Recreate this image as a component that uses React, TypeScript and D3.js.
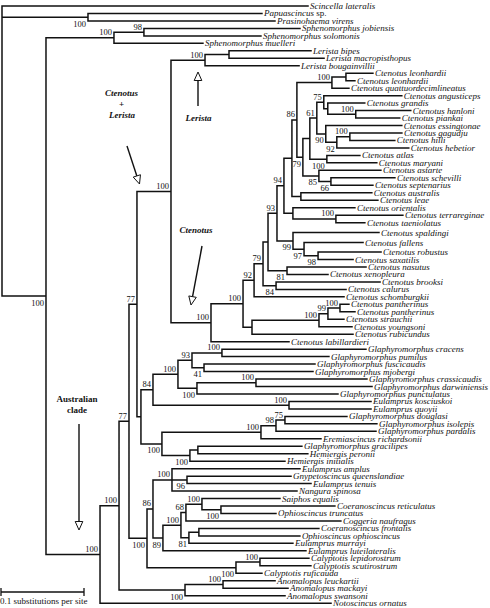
import React from "react";
import * as d3 from "d3";

const W = 490;
const H = 608;

// ---- Tree data (Newick, branch lengths in substitutions per site; internal labels = bootstrap support)
const SPHENOMORPHUS =
  "((Sphenomorphus_jobiensis:0.1880,Sphenomorphus_solomonis:0.1410)98:0.0361,Sphenomorphus_muelleri:0.1072)100:0.0819";
const LERISTA =
  "((Lerista_bipes:0.0988,Lerista_macropisthopus:0.1145):0.0289,Lerista_bougainvillii:0.1133)100:0.0410";
const CT_LEON =
  "((Ctenotus_leonhardii:0.0325,Ctenotus_leonhardii:0.0108):0.0169,Ctenotus_quattuordecimlineatus:0.0205)100:0.0422";
const CT_75 =
  "(Ctenotus_angusticeps:0.0940,(Ctenotus_grandis:0.0446,(Ctenotus_hanloni:0.0663,Ctenotus_piankai:0.0530)100:0.0337):0.0048)75:0.0084";
const CT_90 =
  "(Ctenotus_essingtonae:0.0916,((Ctenotus_gagudju:0.0627,Ctenotus_hilli:0.0542)100:0.0157,Ctenotus_hebetior:0.0867)92:0.0133)90:0.0108";
const CT_ATLAS = "(Ctenotus_atlas:0.0398,Ctenotus_maryani:0.0602)100:0.0205";
const CT_ASTARTE =
  "(Ctenotus_astarte:0.0747,(Ctenotus_schevilli:0.0771,Ctenotus_septenarius:0.0506)66:0.0145)85:0.0193";
const CT_AUSTRALIS = "(Ctenotus_australis:0.0855,Ctenotus_leae:0.0928):0.0108";
const CT_ORIENTALIS =
  "(Ctenotus_orientalis:0.0747,(Ctenotus_terrareginae:0.0807,Ctenotus_taeniolatus:0.0349)100:0.0518):0.0108";
const CT_SPALDINGI =
  "(Ctenotus_spaldingi:0.1036,(Ctenotus_fallens:0.0711,(Ctenotus_robustus:0.0759,Ctenotus_saxatilis:0.0422)98:0.0169)97:0.0133)99:0.0193";
const CT_NASUTUS = "(Ctenotus_nasutus:0.0952,Ctenotus_xenopleura:0.0494)81:0.0229";
const CT_BROOKSI = "(Ctenotus_brooksi:0.1253,Ctenotus_calurus:0.0843)84:0.0157";
const CT_PANTHERINUS =
  "((((Ctenotus_pantherinus:0.0108,Ctenotus_pantherinus:0.0181)100:0.0145,Ctenotus_strauchii:0.0193)99:0.0108,Ctenotus_youngsoni:0.0398)100:0.0807,Ctenotus_rubicundus:0.1217):0.0108";
const GLAPHY_A =
  "(((Glaphyromorphus_cracens:0.1735,Glaphyromorphus_pumilus:0.1289)100:0.0361,(Glaphyromorphus_fuscicaudis:0.1337,Glaphyromorphus_mjobergi:0.1313)41:0.0145)93:0.0169,((Glaphyromorphus_crassicaudis:0.1337,Glaphyromorphus_darwiniensis:0.1398)100:0.0711,Glaphyromorphus_punctulatus:0.1699)100:0.0229)100:0.0301";
const EULAMPRUS_KQ = "(Eulamprus_kosciuskoi:0.0988,Eulamprus_quoyii:0.0988)100:0.1639";
const GLAPHY_B =
  "((((Glaphyromorphus_douglasi:0.0747,Glaphyromorphus_isolepis:0.1108)75:0.0108,Glaphyromorphus_pardalis:0.1205)98:0.0181,Eremiascincus_richardsonii:0.0723)100:0.1193,((Glaphyromorphus_gracilipes:0.1253,Hemiergis_peronii:0.1325):0.0096,Hemiergis_initialis:0.1145)100:0.0337)100:0.0253";
const EULAMPRUS_GROUP =
  "(Eulamprus_amplus:0.1542,(Gnypetoscincus_queenslandiae:0.1253,Eulamprus_tenuis:0.1494)96:0.0181,Nangura_spinosa:0.1506)100:0.0229";
const OPHIO_GROUP =
  "((((Saiphos_equalis:0.0940,(Coeranoscincus_reticulatus:0.1373,Ophioscincus_truncatus:0.0663)100:0.0229)100:0.0193,Coggeria_naufragus:0.1867)68:0.0060,((Coeranoscincus_frontalis:0.1446,Ophioscincus_ophioscincus:0.1217):0.0120,Eulamprus_murrayi:0.1253)81:0.0096)100:0.0217,Eulamprus_luteilateralis:0.1723)89:0.0120";
const CALYPTOTIS =
  "((Calyptotis_lepidorostrum:0.0590,Calyptotis_scutirostrum:0.0614)100:0.0289,Calyptotis_ruficauda:0.0313)100:0.1072";
const ANOMALOPUS =
  "((Anomalopus_leuckartii:0.0627,Anomalopus_mackayi:0.0783)100:0.0458,Anomalopus_swansoni:0.1205)100:0.0795";
const OUTGROUP_PP = "(Papuascincus_sp.:0.2096,Prasinohaema_virens:0.2253)100:0.1036";

// compose
const CT_Y = `((${CT_75},${CT_90})61:0.0084,${CT_ATLAS}):0.0084`;
const CT_86 = `(${CT_LEON},(${CT_Y},${CT_ASTARTE})79:0.0072)86:0.0060`;
const CT_94 = `((${CT_86},${CT_AUSTRALIS}):0.0096,${CT_ORIENTALIS})94:0.0084`;
const CT_93 = `(${CT_94},${CT_SPALDINGI})93:0.0108`;
const CT_92 = `(((${CT_93},${CT_NASUTUS}):0.0060,${CT_BROOKSI})79:0.0108,Ctenotus_schomburgkii:0.1084)92:0.0133`;
const CTENOTUS = `((${CT_92},${CT_PANTHERINUS})100:0.0386,Ctenotus_labillardieri:0.0940)100:0.0482`;
const CT_LERISTA = `(${LERISTA},${CTENOTUS})100:0.0410`;
const GLAPHY = `((${GLAPHY_A},${EULAMPRUS_KQ})84:0.0145,${GLAPHY_B}):0.0048`;
const CLADE_137 = `(${CT_LERISTA},${GLAPHY})77:0.0096`;
const CLADE_147 = `((${EULAMPRUS_GROUP},${OPHIO_GROUP})86:0.0072,${CALYPTOTIS})100:0.0217`;
const CLADE_119 = `((${CLADE_137},${CLADE_147})77:0.0120,${ANOMALOPUS})100:0.0229`;
const AUSTRALIAN = `(${CLADE_119},Notoscincus_ornatus:0.2783)100:0.0651`;
const TREE = `(Scincella_lateralis:0.3687,${OUTGROUP_PP},(${SPHENOMORPHUS},${AUSTRALIAN})100:0.0530);`;

// extra vertical spacing after given leaf indices (as in the original figure)
const LEAF_GAP_AFTER: Record<number, number> = { 29: 2.5, 30: 2.5, 31: 2 };
// support labels drawn above their branch although the node is a lower child
const LABEL_ABOVE = [
  "Lerista bipes|Notoscincus ornatus",
  "Ctenotus leonhardii|Ctenotus labillardieri",
  "Ctenotus terrareginae|Ctenotus taeniolatus",
  "Ctenotus hanloni|Ctenotus piankai",
  "Eulamprus kosciuskoi|Eulamprus quoyii",
];

type PNode = { name: string; length: number; children?: PNode[] };

function parseNewick(s: string): PNode {
  let i = 0;
  function node(): PNode {
    const n: PNode = { name: "", length: 0 };
    if (s[i] === "(") {
      i++;
      n.children = [];
      for (;;) {
        n.children.push(node());
        if (s[i] === ",") { i++; continue; }
        if (s[i] === ")") { i++; break; }
        break;
      }
    }
    let name = "";
    while (i < s.length && !":,();".includes(s[i])) name += s[i++];
    n.name = name.replace(/_/g, " ");
    if (s[i] === ":") {
      i++;
      let num = "";
      while (i < s.length && !",();".includes(s[i])) num += s[i++];
      n.length = parseFloat(num);
    }
    return n;
  }
  return node();
}

const FONT = "'Liberation Serif', 'Times New Roman', serif";

function ArrowHead({ x1, y1, x2, y2 }: { x1: number; y1: number; x2: number; y2: number }) {
  // line from (x1,y1) to tip (x2,y2) with hollow triangle head
  const len = Math.hypot(x2 - x1, y2 - y1);
  const ux = (x2 - x1) / len, uy = (y2 - y1) / len;
  const hl = 8.5, hw = 3.8;
  const bx = x2 - ux * hl, by = y2 - uy * hl;
  const px = -uy, py = ux;
  const pts = [
    [x2, y2],
    [bx + px * hw, by + py * hw],
    [bx - px * hw, by - py * hw],
  ];
  return (
    <g>
      <line x1={x1} y1={y1} x2={bx} y2={by} stroke="#111" strokeWidth={1.4} />
      <polygon points={pts.map(p => p.join(",")).join(" ")} fill="#fff" stroke="#111" strokeWidth={1} />
    </g>
  );
}

export default function App() {
  const parsed = parseNewick(TREE);
  const root: any = d3.hierarchy<PNode>(parsed, d => d.children);

  const xScale = d3.scaleLinear().domain([0, 0.1]).range([2, 85]);
  const nLeaves = root.leaves().length;
  const yScale = d3.scaleLinear().domain([0, nLeaves - 1]).range([6, 6 + 7.47 * (nLeaves - 1)]);

  root.eachBefore((n: any) => {
    n.dist = (n.parent ? n.parent.dist : 0) + (n.parent ? n.data.length : 0);
    n.px = xScale(n.dist);
  });
  const leaves = root.leaves();
  let extra = 0;
  leaves.forEach((l: any, i: number) => {
    l.py = yScale(i) + extra;
    extra += LEAF_GAP_AFTER[i] || 0;
  });
  root.eachAfter((n: any) => {
    if (n.children) n.py = (n.children[0].py + n.children[n.children.length - 1].py) / 2;
  });

  const nodes = root.descendants();
  let d = "";
  nodes.forEach((n: any) => {
    if (n.parent) d += `M${n.parent.px},${n.py}H${n.px}`;
    if (n.children) d += `M${n.px},${n.children[0].py}V${n.children[n.children.length - 1].py}`;
  });

  const supports = nodes.filter((n: any) => n.children && n.parent && n.data.name);
  const scaleLen = xScale(0.1) - xScale(0);

  return (
    <svg
      width={W}
      height={H}
      viewBox={`0 0 ${W} ${H}`}
      style={{ position: "absolute", left: 0, top: 0, background: "#fff" }}
      fontFamily={FONT}
    >
      <rect x={0} y={0} width={W} height={H} fill="#fff" />
      <path d={d} fill="none" stroke="#111" strokeWidth={1.5} strokeLinecap="square" />

      {leaves.map((l: any, i: number) => {
        const name: string = l.data.name;
        const isSp = name.endsWith(" sp.");
        return (
          <text key={"leaf" + i} x={l.px + 2} y={l.py + 3} fontSize={9} fontStyle="italic" fill="#111">
            {isSp ? (
              <>
                {name.replace(" sp.", " ")}
                <tspan fontStyle="normal">sp.</tspan>
              </>
            ) : (
              name
            )}
          </text>
        );
      })}

      {supports.map((n: any, i: number) => {
        const lv = n.leaves();
        const key = `${lv[0].data.name}|${lv[lv.length - 1].data.name}`;
        const above = n.parent.children[0] === n || LABEL_ABOVE.includes(key);
        return (
          <text
            key={"sup" + i}
            x={n.px - 2}
            y={above ? n.py - 2.5 : n.py + 9.5}
            fontSize={8.5}
            textAnchor="end"
            fill="#111"
          >
            {n.data.name}
          </text>
        );
      })}

      {/* annotations */}
      <g fontWeight="bold" fontSize={9} fill="#111" textAnchor="middle">
        <text x={121.5} y={96} fontStyle="italic">Ctenotus</text>
        <text x={121.5} y={106.5}>+</text>
        <text x={122} y={118} fontStyle="italic">Lerista</text>
        <text x={198.5} y={121} fontStyle="italic">Lerista</text>
        <text x={196} y={233} fontStyle="italic">Ctenotus</text>
        <text x={77} y={402}>Australian</text>
        <text x={77} y={413}>clade</text>
      </g>
      <ArrowHead x1={198} y1={106} x2={198} y2={72} />
      <ArrowHead x1={127} y1={146} x2={139.5} y2={184} />
      <ArrowHead x1={202} y1={246} x2={191} y2={305} />
      <ArrowHead x1={79} y1={424} x2={79} y2={530} />

      {/* scale bar */}
      <g stroke="#111" strokeWidth={1.3}>
        <line x1={1} y1={592} x2={1 + scaleLen} y2={592} />
        <line x1={1} y1={588} x2={1} y2={596} />
        <line x1={1 + scaleLen} y1={588} x2={1 + scaleLen} y2={596} />
      </g>
      <text x={0} y={604} fontSize={9} fill="#111">0.1 substitutions per site</text>
    </svg>
  );
}
